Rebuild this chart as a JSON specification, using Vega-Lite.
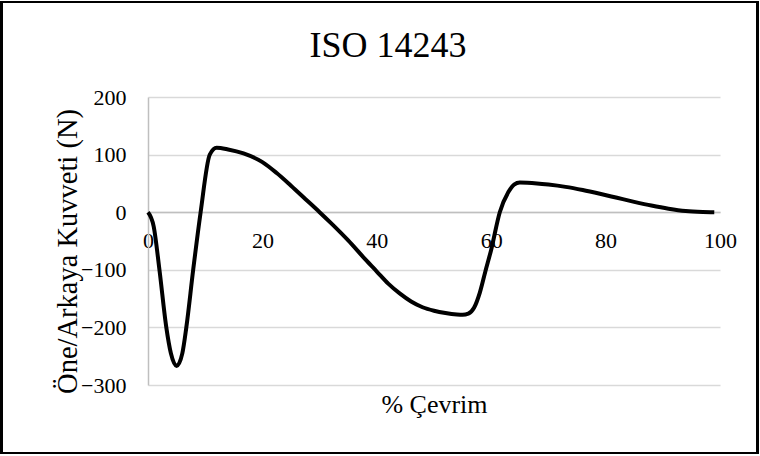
{
  "$schema": "https://vega.github.io/schema/vega-lite/v6.json",
  "autosize": {"type": "none"},
  "width": 572,
  "height": 288,
  "padding": {"left": 148, "top": 97, "right": 40, "bottom": 71},
  "background": "white",
  "title": {
    "text": "ISO 14243",
    "font": "Liberation Serif, Times New Roman, serif",
    "fontSize": 36,
    "fontWeight": "normal",
    "color": "black",
    "anchor": "middle",
    "frame": "group",
    "dx": -46,
    "dy": 36,
    "baseline": "alphabetic",
    "offset": -56
  },
  "config": {
    "view": {"stroke": null},
    "font": "Liberation Serif, Times New Roman, serif"
  },
  "data": {
    "values": [
      {"cycle": 0, "force": 0},
      {"cycle": 1, "force": -25},
      {"cycle": 2, "force": -100},
      {"cycle": 3.2, "force": -200},
      {"cycle": 4, "force": -245},
      {"cycle": 5, "force": -267},
      {"cycle": 6, "force": -245},
      {"cycle": 6.7, "force": -200},
      {"cycle": 7.9, "force": -100},
      {"cycle": 9.2, "force": 0},
      {"cycle": 10.8, "force": 100},
      {"cycle": 12, "force": 112},
      {"cycle": 14, "force": 109},
      {"cycle": 16.7, "force": 102},
      {"cycle": 20, "force": 87},
      {"cycle": 22.5, "force": 68},
      {"cycle": 25, "force": 46},
      {"cycle": 27.5, "force": 23},
      {"cycle": 30, "force": 0},
      {"cycle": 32, "force": -19},
      {"cycle": 35, "force": -49},
      {"cycle": 38, "force": -82},
      {"cycle": 40, "force": -103},
      {"cycle": 42, "force": -124},
      {"cycle": 44, "force": -141},
      {"cycle": 46, "force": -155},
      {"cycle": 48, "force": -165},
      {"cycle": 50, "force": -171},
      {"cycle": 52, "force": -175},
      {"cycle": 54, "force": -177.5},
      {"cycle": 55, "force": -178},
      {"cycle": 56, "force": -176},
      {"cycle": 57, "force": -166},
      {"cycle": 58, "force": -140},
      {"cycle": 59, "force": -102},
      {"cycle": 60, "force": -65},
      {"cycle": 61.5, "force": 0},
      {"cycle": 63, "force": 35},
      {"cycle": 64, "force": 48},
      {"cycle": 65, "force": 51.5},
      {"cycle": 68, "force": 50},
      {"cycle": 70, "force": 48},
      {"cycle": 73, "force": 44},
      {"cycle": 76, "force": 38.5},
      {"cycle": 79, "force": 32},
      {"cycle": 82, "force": 25},
      {"cycle": 85, "force": 18},
      {"cycle": 88, "force": 11.5},
      {"cycle": 91, "force": 6},
      {"cycle": 94, "force": 2},
      {"cycle": 97, "force": 0.4},
      {"cycle": 99, "force": 0}
    ]
  },
  "layer": [
    {
      "mark": {"type": "line", "color": "black", "strokeWidth": 4, "interpolate": "monotone"},
      "encoding": {
        "x": {
          "field": "cycle",
          "type": "quantitative",
          "scale": {"domain": [0, 100], "nice": false, "zero": false},
          "axis": {
            "title": "% Çevrim",
            "titleFont": "Liberation Serif, Times New Roman, serif",
            "titleFontSize": 26,
            "titleFontWeight": "normal",
            "titleColor": "black",
            "titlePadding": 140,
            "values": [0, 20, 40, 60, 80, 100],
            "labelFont": "Liberation Serif, Times New Roman, serif",
            "labelFontSize": 22,
            "labelColor": "black",
            "labelPadding": 18,
            "labelFlush": false,
            "ticks": false,
            "grid": false,
            "domainColor": "#bfbfbf",
            "domainWidth": 1.5,
            "offset": -173
          }
        },
        "y": {
          "field": "force",
          "type": "quantitative",
          "scale": {"domain": [-300, 200], "nice": false, "zero": false},
          "axis": {
            "title": "Öne/Arkaya Kuvveti (N)",
            "titleFont": "Liberation Serif, Times New Roman, serif",
            "titleFontSize": 28.5,
            "titleFontWeight": "normal",
            "titleColor": "black",
            "titlePadding": -2,
            "titleY": 154,
            "values": [-300, -200, -100, 0, 100, 200],
            "labelFont": "Liberation Serif, Times New Roman, serif",
            "labelFontSize": 22,
            "labelColor": "black",
            "labelPadding": 22,
            "ticks": false,
            "grid": true,
            "gridColor": "#d9d9d9",
            "gridWidth": 1.5,
            "domainColor": "#bfbfbf",
            "domainWidth": 1.5
          }
        }
      }
    },
    {
      "mark": {"type": "rect", "fill": null, "stroke": "black", "strokeWidth": 2, "clip": false},
      "encoding": {
        "x": {"datum": -25.6},
        "x2": {"datum": 106.6},
        "y": {"datum": 365},
        "y2": {"datum": -418}
      }
    }
  ]
}
